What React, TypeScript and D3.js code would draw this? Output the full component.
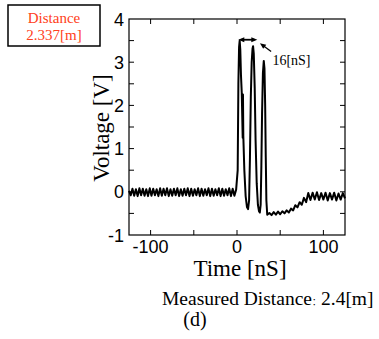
import React from "react";
import * as d3 from "d3";

// Baseline before the pulse (ns, V)
const preTime = [-125, -123, -121, -119, -117, -115, -113, -111, -109, -107, -105, -103, -101, -99, -97, -95, -93, -91, -89, -87, -85, -83, -81, -79, -77, -75, -73, -71, -69, -67, -65, -63, -61, -59, -57, -55, -53, -51, -49, -47, -45, -43, -41, -39, -37, -35, -33, -31, -29, -27, -25, -23, -21, -19, -17, -15, -13, -11, -9, -7, -5, -3, -1];
const preVolt = [0.02, -0.08, 0.07, -0.09, 0.06, -0.1, 0.08, -0.08, 0.07, -0.09,
  0.06, -0.1, 0.08, -0.09, 0.07, -0.08, 0.06, -0.1, 0.08, -0.09,
  0.07, -0.08, 0.08, -0.1, 0.06, -0.09, 0.07, -0.08, 0.08, -0.1,
  0.06, -0.09, 0.07, -0.08, 0.08, -0.1, 0.07, -0.09, 0.06, -0.08,
  0.08, -0.1, 0.07, -0.09, 0.06, -0.08, 0.08, -0.1, 0.07, -0.09,
  0.06, -0.08, 0.08, -0.1, 0.07, -0.09, 0.06, -0.08, 0.08, -0.1,
  0.07, -0.09, 0.05];

// The three pulses
const pulseTime = [0.8, 1.6, 2.4, 3.1, 3.8, 4.6, 5.5, 6.6, 6.9, 7.3, 8.5, 10, 11.5, 12.8, 14, 15, 16, 17, 18, 18.6, 19.4, 20.5, 21.5, 22.8, 24.2, 25.5, 26.4, 27.4, 28.2, 29, 30, 31, 31.8, 32.6, 33.3, 34, 35];
const pulseVolt = [0.5, 2.5, 3.35, 3.5, 3.3, 2.7, 2.3, 1.25, 2.25, 1.3, 0.5, -0.1, -0.35, -0.4, -0.2, 0.8, 2.2, 3.0, 3.32, 3.37, 3.2, 2.4, 1.2, 0.2, -0.3, -0.45, -0.48, -0.3, 0.6, 1.8, 2.75, 3.03, 2.85, 2.0, 0.8, -0.2, -0.53];

// Recovery after the pulse
const postTime = [37.5, 40, 42.5, 45, 47.5, 50, 52.5, 55, 57.5, 60, 62.5, 65, 67.5, 70, 72.5, 75, 77.5, 80, 82.5, 85, 87.5, 90, 92.5, 95, 97.5, 100, 102.5, 105, 107.5, 110, 112.5, 115, 117.5, 120, 122.5, 125];
const postVolt = [-0.49, -0.54, -0.47, -0.53, -0.46, -0.52, -0.45, -0.5, -0.43, -0.48, -0.39, -0.43, -0.31, -0.36, -0.24, -0.3, -0.14, -0.24, -0.03, -0.19, -0.02, -0.18, -0.01, -0.19, -0.03, -0.18, -0.02, -0.2, -0.03, -0.18, -0.02, -0.2, -0.04, -0.18, -0.03, -0.15];

const xLabelTicks = [-100, 0, 100];
const xAllTicks = [-100, -50, 0, 50, 100];
const yLabelTicks = [-1, 0, 1, 2, 3, 4];
const yAllTicks = [-0.5, 0, 0.5, 1, 1.5, 2, 2.5, 3, 3.5];

// Annotation (data units)
const spanArrow = { t0: 1.5, t1: 23.5, v: 3.52 };
const pointer = { tFrom: 39.5, vFrom: 3.25, tTo: 26.5, vTo: 3.44 };
const spanLabel = { t: 41, v: 2.93, text: "16[nS]" };

const boxLines = ["Distance", "2.337[m]"];
const xTitle = "Time [nS]";
const yTitle = "Voltage [V]";
const caption = ["Measured Distance", "\uFF1A", "2.4[m]"];
const subCaption = "(d)";

const W = 379, H = 339;
const L = 129, R = 345, T = 19, B = 235;

export default function App() {
  const x = d3.scaleLinear().domain([-125, 125]).range([L, R]);
  const y = d3.scaleLinear().domain([-1, 4]).range([B, T]);
  const pts: [number, number][] = [
    ...preTime.map((t, i) => [t, preVolt[i]] as [number, number]),
    ...pulseTime.map((t, i) => [t, pulseVolt[i]] as [number, number]),
    ...postTime.map((t, i) => [t, postVolt[i]] as [number, number]),
  ];
  const line = d3.line<[number, number]>().x(d => x(d[0])).y(d => y(d[1]));
  const serif = "'Liberation Serif', 'Times New Roman', serif";
  const sans = "'Liberation Sans', Arial, sans-serif";
  const tk = 5;
  const ax0 = x(spanArrow.t0), ax1 = x(spanArrow.t1), ay = y(spanArrow.v);
  const px0 = x(pointer.tFrom), py0 = y(pointer.vFrom), px1 = x(pointer.tTo), py1 = y(pointer.vTo);
  const ang = Math.atan2(py1 - py0, px1 - px0);
  const head = (hx: number, hy: number, a: number, len = 6, wid = 2.6) => {
    const bx = hx - len * Math.cos(a), by = hy - len * Math.sin(a);
    const nx = -Math.sin(a) * wid, ny = Math.cos(a) * wid;
    return `M${hx},${hy}L${bx + nx},${by + ny}L${bx - nx},${by - ny}Z`;
  };
  return (
    <svg width={W} height={H} style={{ position: "absolute", left: 0, top: 0, background: "#fff" }}>
      <rect x={8} y={5} width={92} height={41} fill="none" stroke="#000" strokeWidth={1.5} />
      {boxLines.map((s, i) => (
        <text key={s} x={54} y={22.5 + i * 17} textAnchor="middle" fontFamily={serif} fontSize={15} fill="#ff4020">{s}</text>
      ))}
      <rect x={L} y={T} width={R - L} height={B - T} fill="none" stroke="#000" strokeWidth={1.2} />
      {xAllTicks.map(t => (
        <g key={t}>
          <line x1={x(t)} x2={x(t)} y1={B} y2={B - tk} stroke="#000" strokeWidth={1} />
          <line x1={x(t)} x2={x(t)} y1={T} y2={T + tk} stroke="#000" strokeWidth={1} />
        </g>
      ))}
      {yAllTicks.map(v => (
        <g key={v}>
          <line x1={L} x2={L + tk} y1={y(v)} y2={y(v)} stroke="#000" strokeWidth={1} />
          <line x1={R} x2={R - tk} y1={y(v)} y2={y(v)} stroke="#000" strokeWidth={1} />
        </g>
      ))}
      {xLabelTicks.map(t => (
        <text key={t} x={x(t)} y={B + 18} textAnchor="middle" fontFamily={sans} fontSize={18}>{t}</text>
      ))}
      {yLabelTicks.map(v => (
        <text key={v} x={L - 5} y={y(v) + 6.5} textAnchor="end" fontFamily={sans} fontSize={18}>{v}</text>
      ))}
      <path d={line(pts) || ""} fill="none" stroke="#000" strokeWidth={2} strokeLinejoin="round" />
      <line x1={ax0 + 3} x2={ax1 - 3} y1={ay} y2={ay} stroke="#000" strokeWidth={1.8} />
      <path d={head(ax0, ay, Math.PI)} fill="#000" />
      <path d={head(ax1, ay, 0)} fill="#000" />
      <line x1={px0} y1={py0} x2={px1 - 3 * Math.cos(ang)} y2={py1 - 3 * Math.sin(ang)} stroke="#000" strokeWidth={1.3} />
      <path d={head(px1, py1, ang)} fill="#000" />
      <text x={x(spanLabel.t)} y={y(spanLabel.v)} fontFamily={serif} fontSize={14}>{spanLabel.text}</text>
      <text x={240} y={276} textAnchor="middle" fontFamily={serif} fontSize={23}>{xTitle}</text>
      <text transform={`translate(109,128) rotate(-90)`} textAnchor="middle" fontFamily={serif} fontSize={23}>{yTitle}</text>
      <text x={162} y={305} fontFamily={serif} fontSize={19.5}>
        {caption[0]}
        <tspan fontFamily="'Noto Sans CJK SC', sans-serif" fontSize={9}>{caption[1]}</tspan>
        <tspan>{caption[2]}</tspan>
      </text>
      <text x={195} y={326} textAnchor="middle" fontFamily={serif} fontSize={20}>{subCaption}</text>
    </svg>
  );
}
